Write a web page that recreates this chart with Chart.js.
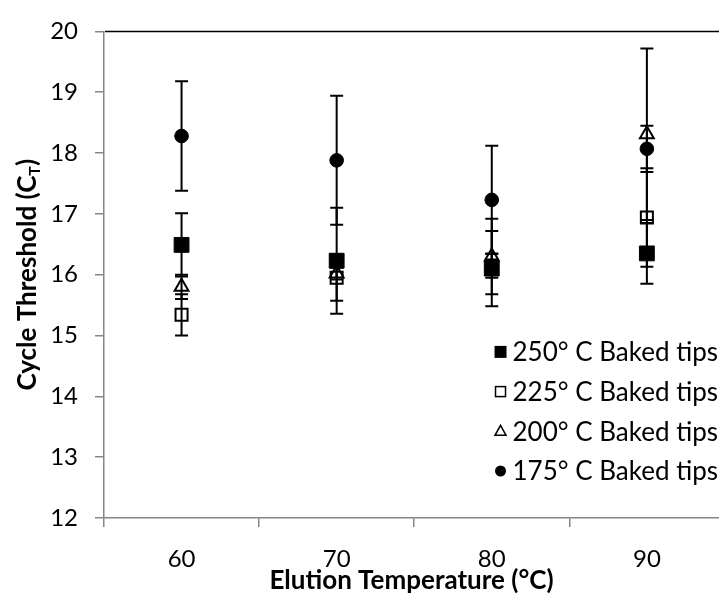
<!DOCTYPE html>
<html>
<head>
<meta charset="utf-8">
<script src="https://cdn.jsdelivr.net/npm/chart.js@4/dist/chart.umd.min.js"></script>
<style>
html,body{margin:0;padding:0;background:#fff;overflow:hidden}
#wrap{width:719px;height:599px;position:relative}
</style>
</head>
<body>
<div id="wrap"><canvas id="c" width="719" height="599"></canvas></div>
<script>
// ---- data ----
const temperatures = [60, 70, 80, 90];
const seriesNames = ['250° C Baked tips', '225° C Baked tips', '200° C Baked tips', '175° C Baked tips'];
const ct250 = [16.49, 16.23, 16.10, 16.35];
const err250 = [0.52, 0.87, 0.62, 0.50];
const ct225 = [15.34, 15.95, 16.15, 16.94];
const err225 = [0.34, 0.38, 0.20, 0.81];
const ct200 = [15.80, 16.02, 16.30, 18.31];
const err200 = [0.20, 0.10, 0.62, 1.41];
const ct175 = [18.28, 17.88, 17.23, 18.07];
const err175 = [0.90, 1.06, 0.89, 0.38];
const yMin = 12, yMax = 20, yStep = 1;
const xLabels = [60, 70, 80, 90];
const xTickMarks = [55, 65, 75, 85];
const xTitle = 'Elution Temperature (°C)';
const yTitleMain = 'Cycle Threshold (C';
const yTitleSub = 'T';
const yTitleEnd = ')';

const FONT = 'Lato';
const AXIS_GRAY = '#868686';

function pts(vals){ return temperatures.map((t,i)=>({x:t, y:vals[i]})); }

const markerDefs = [
  {style:'rect', fill:'#000', radius:10.5, border:1},
  {style:'rect', fill:'rgba(0,0,0,0)', radius:8.5, border:2},
  {style:'triangle', fill:'rgba(0,0,0,0)', radius:8, border:2},
  {style:'circle', fill:'#000', radius:6.8, border:1}
];
const values = [ct250, ct225, ct200, ct175];
const errors = [err250, err225, err200, err175];

const datasets = values.map((v,i)=>({
  label: seriesNames[i],
  data: pts(v),
  errors: errors[i],
  pointStyle: markerDefs[i].style,
  pointRadius: markerDefs[i].radius,
  pointHoverRadius: markerDefs[i].radius,
  pointBackgroundColor: markerDefs[i].fill,
  pointBorderColor: '#000',
  pointBorderWidth: markerDefs[i].border,
  showLine: false
}));

const errorBars = {
  id:'errorBars',
  afterDatasetsDraw(chart){
    const ctx = chart.ctx, xs = chart.scales.x, ys = chart.scales.y;
    ctx.save();
    ctx.strokeStyle = '#000';
    ctx.lineWidth = 2;
    chart.data.datasets.forEach(ds=>{
      ds.data.forEach((p,i)=>{
        const e = ds.errors[i];
        const x = xs.getPixelForValue(p.x);
        const yt = ys.getPixelForValue(p.y + e);
        const yb = ys.getPixelForValue(p.y - e);
        const cw = 6.5;
        ctx.beginPath();
        ctx.moveTo(x, yt); ctx.lineTo(x, yb);
        ctx.moveTo(x-cw, yt); ctx.lineTo(x+cw, yt);
        ctx.moveTo(x-cw, yb); ctx.lineTo(x+cw, yb);
        ctx.stroke();
      });
    });
    ctx.restore();
  }
};

const frame = {
  id:'frame',
  afterDraw(chart){
    const ctx = chart.ctx, a = chart.chartArea;
    ctx.save();
    // top border line
    ctx.strokeStyle = '#000';
    ctx.lineWidth = 1.5;
    ctx.beginPath();
    ctx.moveTo(a.left + 1, a.top);
    ctx.lineTo(chart.width, a.top);
    ctx.stroke();
    // y title with subscript
    ctx.fillStyle = '#000';
    const big = 'bold 26px ' + FONT, small = 'bold 16px ' + FONT;
    ctx.font = big;
    const w1 = ctx.measureText(yTitleMain).width;
    const w3 = ctx.measureText(yTitleEnd).width;
    ctx.font = small;
    const w2 = ctx.measureText(yTitleSub).width;
    const total = w1 + w2 + w3;
    ctx.translate(27, (a.top + a.bottom)/2);
    ctx.rotate(-Math.PI/2);
    ctx.textBaseline = 'alphabetic';
    ctx.textAlign = 'left';
    let x0 = -total/2;
    ctx.font = big; ctx.fillText(yTitleMain, x0, 9);
    ctx.font = small; ctx.fillText(yTitleSub, x0 + w1, 13);
    ctx.font = big; ctx.fillText(yTitleEnd, x0 + w1 + w2, 9);
    ctx.restore();

    // legend
    ctx.save();
    ctx.font = '26px ' + FONT;
    ctx.fillStyle = '#000';
    ctx.textBaseline = 'middle';
    ctx.textAlign = 'right';
    const textRight = chart.width - 1;
    chart.data.datasets.forEach((ds,i)=>{
      const y = a.bottom - 47 - (3 - i) * 39.7;
      const tw = ctx.measureText(ds.label).width;
      const mx = textRight - tw - 12;
      ctx.fillText(ds.label, textRight, y + 1);
      ctx.strokeStyle = '#000';
      ctx.fillStyle = '#000';
      ctx.lineWidth = 1.5;
      ctx.beginPath();
      if (i === 0) { ctx.fillRect(mx-6, y-6, 12, 12); }
      else if (i === 1) { ctx.strokeRect(mx-5, y-5, 10, 10); }
      else if (i === 2) { ctx.moveTo(mx, y-6); ctx.lineTo(mx+5.5, y+4); ctx.lineTo(mx-5.5, y+4); ctx.closePath(); ctx.stroke(); }
      else { ctx.arc(mx, y, 5.5, 0, Math.PI*2); ctx.fill(); }
    });
    ctx.restore();
  }
};

new Chart(document.getElementById('c'), {
  type:'scatter',
  data:{datasets},
  options:{
    responsive:false,
    animation:false,
    events:[],
    layout:{autoPadding:false, padding:{top:24, right:0, bottom:0, left:0}},
    plugins:{legend:{display:false}, tooltip:{enabled:false}},
    scales:{
      x:{
        type:'linear', min:55, max:94.65,
        afterFit(s){ s.height = 81; },
        afterBuildTicks(s){ s.ticks = [55,60,65,70,75,80,85,90].map(v=>({value:v})); },
        ticks:{
          autoSkip:false, maxRotation:0, padding:18,
          color:'#000', font:{family:FONT, size:24},
          callback:(v)=> xLabels.includes(v) ? String(v) : ''
        },
        grid:{
          drawOnChartArea:false, drawTicks:true, tickLength:9,
          color:(c)=> (c.tick && xTickMarks.includes(c.tick.value)) ? AXIS_GRAY : 'rgba(0,0,0,0)',
          lineWidth:1.5
        },
        border:{display:true, color:AXIS_GRAY, width:1.5},
        title:{display:true, text:xTitle, color:'#000', font:{family:FONT, size:26, weight:'bold'}, padding:{top:0,bottom:3}}
      },
      y:{
        min:yMin, max:yMax,
        afterFit(s){ s.width = 104; },
        ticks:{stepSize:yStep, color:'#000', font:{family:FONT, size:24}, padding:17},
        grid:{drawOnChartArea:false, drawTicks:true, tickLength:9, color:AXIS_GRAY, lineWidth:1.5},
        border:{display:true, color:AXIS_GRAY, width:1.5}
      }
    }
  },
  plugins:[errorBars, frame]
});
</script>
</body>
</html>
